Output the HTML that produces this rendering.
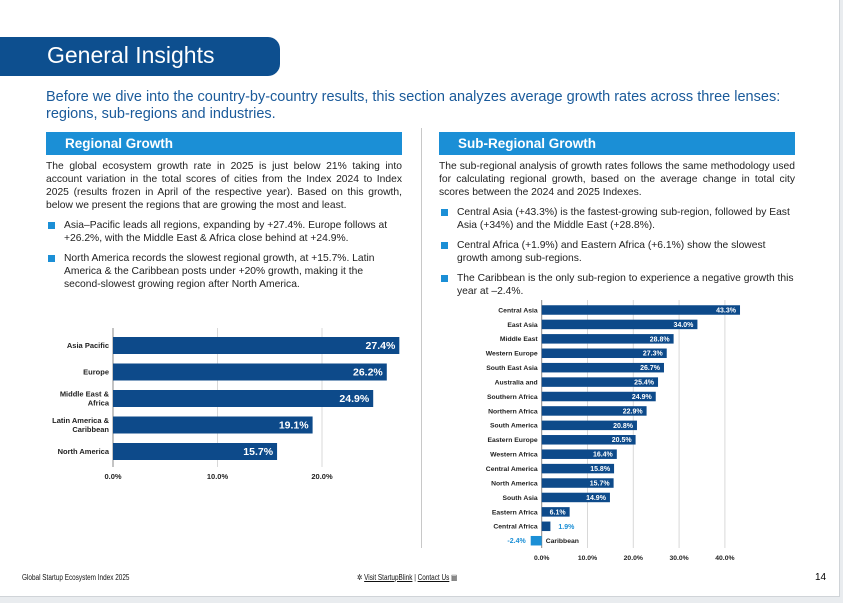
<!DOCTYPE html>
<html><head><meta charset="utf-8">
<style>
body{margin:0;width:843px;height:603px;background:#e9ecef;overflow:hidden;font-family:"Liberation Sans",sans-serif;}
#page{position:absolute;left:0;top:0;width:839px;height:596px;background:#fff;border-right:1px solid #d0d4d8;border-bottom:1px solid #d0d4d8;}
.abs{position:absolute;}
#hdr{left:0;top:37px;width:280px;height:39px;background:#0d4f8f;border-radius:0 12px 12px 0;}
#hdr span{position:absolute;left:47px;top:5px;color:#fff;font-size:23px;}
#intro{left:46px;top:89px;width:780px;color:#1a5a9a;font-size:14.5px;line-height:17px;}
.sh{height:23px;background:#1b8fd6;color:#fff;font-weight:bold;font-size:13.5px;line-height:23px;padding-left:19px;box-sizing:border-box;}
.para{font-size:10.3px;line-height:13px;color:#222;text-align:justify;}
ul{margin:0;padding:0;list-style:none;}
li{position:relative;padding-left:18px;margin-top:7px;font-size:10.3px;line-height:13px;color:#222;}
li:before{content:"";position:absolute;left:2px;top:3px;width:7px;height:7px;background:#1b8fd6;}
#foot{top:573px;font-size:8px;color:#111;transform:scaleX(.8);transform-origin:left;}
</style></head><body>
<div id="page">
<div id="hdr" class="abs"><span>General Insights</span></div>
<div id="intro" class="abs">Before we dive into the country-by-country results, this section analyzes average growth rates across three lenses: regions, sub-regions and industries.</div>
<div class="abs" style="left:421px;top:128px;width:1px;height:420px;background:#c8c8c8"></div>

<div class="abs" style="left:46px;top:132px;width:356px">
<div class="sh">Regional Growth</div>
<div class="para" style="margin-top:5px">The global ecosystem growth rate in 2025 is just below 21% taking into account variation in the total scores of cities from the Index 2024 to Index 2025 (results frozen in April of the respective year). Based on this growth, below we present the regions that are growing the most and least.</div>
<ul>
<li>Asia–Pacific leads all regions, expanding by +27.4%. Europe follows at +26.2%, with the Middle East &amp; Africa close behind at +24.9%.</li>
<li>North America records the slowest regional growth, at +15.7%. Latin America &amp; the Caribbean posts under +20% growth, making it the second-slowest growing region after North America.</li>
</ul></div>

<div class="abs" style="left:439px;top:132px;width:356px">
<div class="sh">Sub-Regional Growth</div>
<div class="para" style="margin-top:5px">The sub-regional analysis of growth rates follows the same methodology used for calculating regional growth, based on the average change in total city scores between the 2024 and 2025 Indexes.</div>
<ul>
<li>Central Asia (+43.3%) is the fastest-growing sub-region, followed by East Asia (+34%) and the Middle East (+28.8%).</li>
<li>Central Africa (+1.9%) and Eastern Africa (+6.1%) show the slowest growth among sub-regions.</li>
<li>The Caribbean is the only sub-region to experience a negative growth this year at –2.4%.</li>
</ul></div>

<svg class="abs" style="left:0;top:0" width="839" height="596" id="charts">
<g id="c1"></g>
<g id="c2"></g>
</svg>

<div id="foot" class="abs" style="left:22px">Global Startup Ecosystem Index 2025</div>
<div id="foot" class="abs" style="left:357px">✲ <u>Visit StartupBlink</u> | <u>Contact Us</u> ▤</div>
<div class="abs" style="left:815px;top:572px;font-size:10px">14</div>
</div>
<script>
const regCats=["Asia Pacific","Europe","Middle East &|Africa","Latin America &|Caribbean","North America"];
const regVals=[27.4,26.2,24.9,19.1,15.7];
const regTicks=[0,10,20];
const subCats=["Central Asia","East Asia","Middle East","Western Europe","South East Asia","Australia and","Southern Africa","Northern Africa","South America","Eastern Europe","Western Africa","Central America","North America","South Asia","Eastern Africa","Central Africa","Caribbean"];
const subVals=[43.3,34.0,28.8,27.3,26.7,25.4,24.9,22.9,20.8,20.5,16.4,15.8,15.7,14.9,6.1,1.9,-2.4];
const subTicks=[0,10,20,30,40];
const NS="http://www.w3.org/2000/svg";
function mk(p,t,a){const e=document.createElementNS(NS,t);for(const k in a)e.setAttribute(k,a[k]);p.appendChild(e);return e;}
function chart(g,cats,vals,ticks,o){
  const x=v=>o.x0+v*o.k, y=i=>o.y0+i*o.step;
  ticks.forEach(t=>{
    const l=mk(g,"line",{x1:x(t),x2:x(t),y1:o.top,y2:o.bot,stroke:t==0?"#888":"#d8d8d8","stroke-width":1});
    
    
    const tx=mk(g,"text",{x:x(t),y:o.tickY,"text-anchor":"middle","font-size":o.fs,"font-weight":"bold",fill:"#222"});
    tx.textContent=t.toFixed(1)+"%";
    
    
  });
  cats.forEach((c,i)=>{
    const v=vals[i],cy=y(i);
    const neg=v<0;
    const r=mk(g,"rect",{x:Math.min(x(0),x(v)),y:cy-o.bh/2,width:Math.abs(x(v)-x(0)),height:o.bh,fill:neg?"#1b8fd6":"#0d4a8a"});
    
    
    const lines=c.split("|");
    const la=mk(g,"text",{x:neg?x(0)+4:x(0)-4,"text-anchor":neg?"start":"end","font-size":o.fs,"font-weight":"bold",fill:"#222"});
    lines.forEach((s,j)=>{const ts=mk(la,"tspan",{x:neg?x(0)+4:x(0)-4,y:cy+o.fs*0.35+(j-(lines.length-1)/2)*o.fs*1.2});ts.textContent=s;});
    
    
    const w=x(v)-x(0);
    let vt;
    if(neg){vt=mk(g,"text",{x:x(v)-5,y:cy+o.vfs*0.35,"text-anchor":"end","font-size":o.vfs,"font-weight":"bold",fill:"#1b8fd6"});}
    else if(w<o.minIn){vt=mk(g,"text",{x:x(v)+8,y:cy+o.vfs*0.35,"text-anchor":"start","font-size":o.vfs,"font-weight":"bold",fill:"#1b8fd6"});}
    else{vt=mk(g,"text",{x:x(v)-4,y:cy+o.vfs*0.35,"text-anchor":"end","font-size":o.vfs,"font-weight":"bold",fill:"#fff"});}
    vt.textContent=v.toFixed(1)+"%";
    
    
  });
}
chart(document.getElementById("c1"),regCats,regVals,regTicks,{x0:113,k:10.45,y0:345.5,step:26.5,bh:17,top:328,bot:467,tickY:479,fs:7.5,vfs:10.5,minIn:40});
chart(document.getElementById("c2"),subCats,subVals,subTicks,{x0:541.7,k:4.58,y0:310,step:14.42,bh:9.5,top:300,bot:548,tickY:560,fs:6.8,vfs:7,minIn:20});
</script>
</body></html>
